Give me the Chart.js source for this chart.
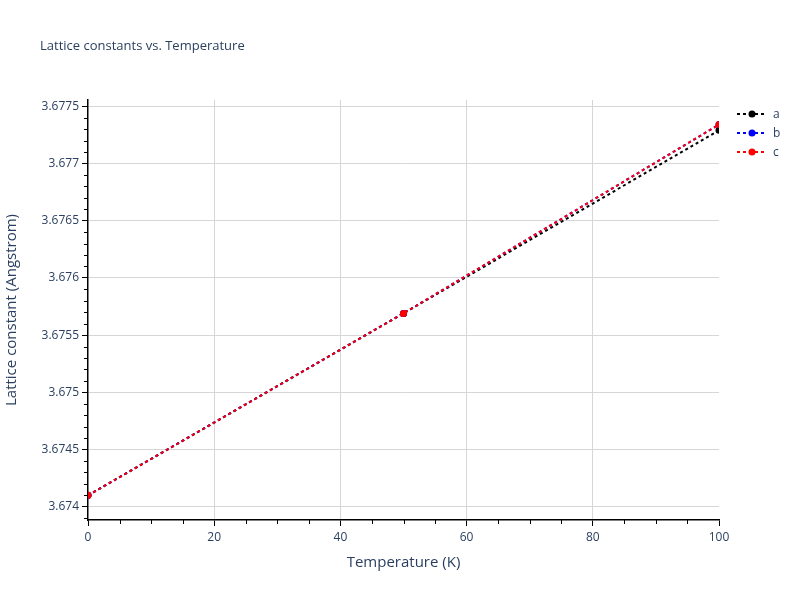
<!DOCTYPE html>
<html>
<head>
<meta charset="utf-8">
<script src="https://cdn.jsdelivr.net/npm/chart.js@4/dist/chart.umd.min.js"></script>
<style>
  html, body { margin: 0; padding: 0; background: #fff; }
  #chart { display: block; }
</style>
</head>
<body>
<canvas id="chart" width="800" height="600"></canvas>
<script>
// values
const temperatures = [0, 50, 100];
const aValues = [3.67410, 3.67569, 3.67729];
const bValues = [3.67410, 3.67569, 3.67734];
const cValues = [3.67410, 3.67569, 3.67734];
const seriesNames = ['a', 'b', 'c'];
const seriesColors = ['#000000', '#0000ff', '#ff0000'];
const xTicks = [0, 20, 40, 60, 80, 100];

const textColor = '#2a3f5f';
const gridColor = '#d6d6d6';
const fontFamily = '"Open Sans", "Liberation Sans", sans-serif';

const toPoints = (vals) => temperatures.map((t, i) => ({ x: t, y: vals[i] }));

function makeDataset(name, vals, color, order) {
    return {
        label: name,
        data: toPoints(vals),
        borderColor: color,
        backgroundColor: color,
        borderWidth: 2,
        borderDash: [3, 3],
        pointRadius: 3.5,
        pointBorderWidth: 0,
        pointBackgroundColor: color,
        tension: 0,
        fill: false,
        clip: 0,
        order: order,
    };
}

// minor ticks like the reference axes
const minorTicks = {
    id: 'minorTicks',
    afterDraw(chart) {
        const ctx = chart.ctx;
        const xs = chart.scales.x;
        const ys = chart.scales.y;
        const area = chart.chartArea;
        ctx.save();
        ctx.strokeStyle = '#000';
        ctx.lineWidth = 1;
        ctx.beginPath();
        for (let v = 5; v < 100; v += 5) {
            if (v % 20 === 0) continue;
            const px = Math.round(xs.getPixelForValue(v)) + 0.5;
            ctx.moveTo(px, area.bottom);
            ctx.lineTo(px, area.bottom + 4);
        }
        for (let k = 36739; k <= 36775; k++) {
            if (k % 5 === 0) continue;
            const py = ys.getPixelForValue(k / 10000);
            if (py < area.top || py > area.bottom) continue;
            const p = Math.round(py) + 0.5;
            ctx.moveTo(area.left, p);
            ctx.lineTo(area.left - 4, p);
        }
        ctx.stroke();
        ctx.restore();
    }
};

// plotly-style title and legend
const decorations = {
    id: 'decorations',
    afterDraw(chart) {
        const ctx = chart.ctx;
        ctx.save();
        ctx.fillStyle = textColor;
        ctx.font = '13px ' + fontFamily;
        ctx.textBaseline = 'middle';
        ctx.textAlign = 'left';
        ctx.fillText('Lattice constants vs. Temperature', 40, 46);

        chart.data.datasets.forEach((ds, i) => {
            const y = 114 + i * 19;
            ctx.strokeStyle = ds.borderColor;
            ctx.lineWidth = 2;
            ctx.setLineDash([3, 3]);
            ctx.beginPath();
            ctx.moveTo(737, y);
            ctx.lineTo(767, y);
            ctx.stroke();
            ctx.setLineDash([]);
            ctx.fillStyle = ds.borderColor;
            ctx.beginPath();
            ctx.arc(752, y, 3.5, 0, Math.PI * 2);
            ctx.fill();
            ctx.fillStyle = textColor;
            ctx.font = '12px ' + fontFamily;
            ctx.fillText(ds.label, 773, y + 1);
        });
        ctx.restore();
    }
};

Chart.defaults.font.family = fontFamily;
Chart.defaults.font.size = 12;
Chart.defaults.color = textColor;

new Chart(document.getElementById('chart'), {
    type: 'line',
    data: {
        datasets: [
            makeDataset(seriesNames[0], aValues, seriesColors[0], 2),
            makeDataset(seriesNames[1], bValues, seriesColors[1], 1),
            makeDataset(seriesNames[2], cValues, seriesColors[2], 0),
        ],
    },
    options: {
        responsive: false,
        animation: false,
        devicePixelRatio: 1,
        layout: { padding: { left: 0, right: 81, top: 100, bottom: 0 } },
        plugins: {
            legend: { display: false },
            title: { display: false },
            tooltip: { enabled: false },
        },
        scales: {
            x: {
                type: 'linear',
                min: 0,
                max: 100,
                afterFit(scale) { scale.height = 80; },
                afterBuildTicks(scale) { scale.ticks = xTicks.map(v => ({ value: v })); },
                ticks: { maxRotation: 0, autoSkip: false, padding: 4, color: textColor },
                grid: {
                    color: (c) => (c.tick && (c.tick.value === 0 || c.tick.value === 100)) ? 'rgba(0,0,0,0)' : gridColor,
                    tickColor: '#000',
                    tickLength: 6,
                    lineWidth: 1,
                },
                border: { color: '#000', width: 1.5 },
                title: {
                    display: true,
                    text: 'Temperature (K)',
                    font: { size: 15 },
                    color: textColor,
                    padding: { top: 0, bottom: 28 },
                },
            },
            y: {
                type: 'linear',
                min: 3.673884,
                max: 3.677555,
                afterFit(scale) { scale.width = 88; },
                ticks: {
                    stepSize: 0.0005,
                    includeBounds: false,
                    padding: 3,
                    color: textColor,
                    callback: (v) => parseFloat(Number(v).toFixed(4)).toString(),
                },
                grid: {
                    color: gridColor,
                    tickColor: '#000',
                    tickLength: 6,
                    lineWidth: 1,
                },
                border: { color: '#000', width: 1.5 },
                title: {
                    display: true,
                    text: 'Lattice constant (Angstrom)',
                    font: { size: 15 },
                    color: textColor,
                    padding: { top: 3, bottom: 0 },
                },
            },
        },
    },
    plugins: [minorTicks, decorations],
});
</script>
</body>
</html>
